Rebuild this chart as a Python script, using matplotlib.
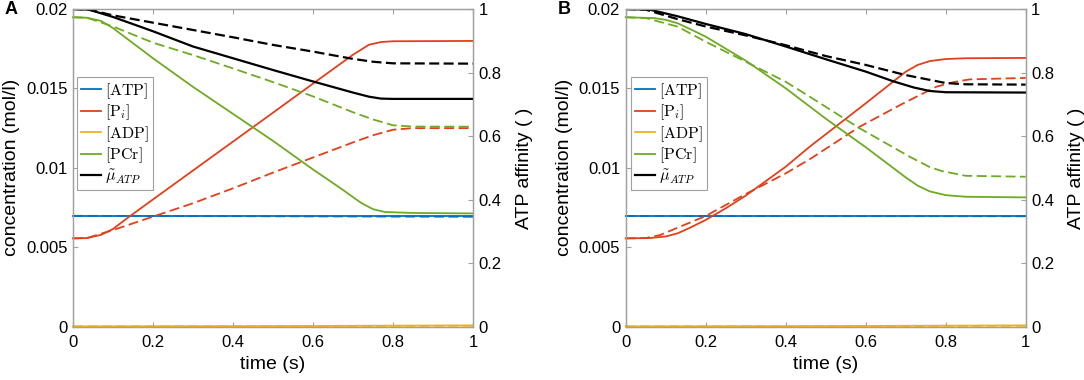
import matplotlib
matplotlib.use("Agg")
import matplotlib.pyplot as plt

plt.rcParams['font.family'] = ['Liberation Sans', 'DejaVu Sans']
plt.rcParams['mathtext.fontset'] = 'cm'

# ---- panel A ----
tA_atp = [0, 1.0]
a_atp = [0.00698, 0.00698]
a_atp_d = [0.00698, 0.00692]

tA_adp = [0, 0.5, 1.0]
a_adp = [0.00002, 0.00004, 0.00008]
a_adp_d = [0.00002, 0.00003, 0.00006]

tA_pi = [0, 0.035, 0.07, 0.1, 0.135, 0.2, 0.3, 0.4, 0.5, 0.6, 0.7, 0.74, 0.77, 0.8, 1.0]
a_pi = [0.00556, 0.00558, 0.00578, 0.00615, 0.00682, 0.00801, 0.00983, 0.01165,
        0.01347, 0.0153, 0.01712, 0.01775, 0.01792, 0.01797, 0.01799]
tA_pi_d = [0, 0.035, 0.1, 0.2, 0.3, 0.4, 0.5, 0.6, 0.7, 0.75, 0.8, 0.85, 1.0]
a_pi_d = [0.00556, 0.00558, 0.00608, 0.00693, 0.00777, 0.00871, 0.0097, 0.01065,
          0.0116, 0.01205, 0.0124, 0.0125, 0.0125]

tA_pcr = [0, 0.035, 0.07, 0.1, 0.2, 0.3, 0.4, 0.5, 0.6, 0.67, 0.72, 0.75, 0.78, 0.85, 1.0]
a_pcr = [0.01948, 0.01945, 0.01925, 0.0188, 0.0169, 0.0151, 0.0134, 0.0117,
         0.0099, 0.0087, 0.0078, 0.0074, 0.00722, 0.00716, 0.00713]
tA_pcr_d = [0, 0.035, 0.1, 0.2, 0.3, 0.4, 0.5, 0.6, 0.7, 0.75, 0.8, 0.85, 1.0]
a_pcr_d = [0.01948, 0.01945, 0.0189, 0.01788, 0.0171, 0.01626, 0.0154, 0.0145,
           0.0135, 0.01305, 0.01268, 0.0126, 0.01259]

tA_mu = [0, 0.04, 0.1, 0.2, 0.3, 0.4, 0.5, 0.6, 0.7, 0.74, 0.77, 0.8, 1.0]
a_mu = [1.0, 0.998, 0.975, 0.93, 0.882, 0.845, 0.808, 0.772, 0.737, 0.724, 0.718, 0.717, 0.717]
tA_mu_d = [0, 0.04, 0.1, 0.2, 0.3, 0.4, 0.5, 0.6, 0.7, 0.75, 0.8, 1.0]
a_mu_d = [1.0, 0.998, 0.98, 0.957, 0.934, 0.911, 0.887, 0.866, 0.843, 0.834, 0.829, 0.828]

# ---- panel B ----
tB_atp = [0, 1.0]
b_atp = [0.00697, 0.00697]
b_atp_d = [0.00697, 0.00695]

tB_adp = [0, 0.5, 1.0]
b_adp = [0.00002, 0.00004, 0.00008]
b_adp_d = [0.00002, 0.00003, 0.00006]

tB_pi = [0, 0.06, 0.1, 0.13, 0.16, 0.2, 0.25, 0.3, 0.4, 0.46, 0.6, 0.7, 0.73, 0.76, 0.8, 0.85, 1.0]
b_pi = [0.00556, 0.00558, 0.00568, 0.00588, 0.00622, 0.00672, 0.00745, 0.00825, 0.01007,
        0.01133, 0.01406, 0.01605, 0.01648, 0.01672, 0.01685, 0.0169, 0.01692]
tB_pi_d = [0, 0.05, 0.086, 0.2, 0.3, 0.4, 0.46, 0.585, 0.694, 0.777, 0.82, 0.86, 1.0]
b_pi_d = [0.00556, 0.00558, 0.00577, 0.00697, 0.00835, 0.00965, 0.01054, 0.01259,
          0.01406, 0.01511, 0.0154, 0.01557, 0.01566]

tB_pcr = [0, 0.07, 0.1, 0.13, 0.16, 0.2, 0.3, 0.4, 0.5, 0.6, 0.7, 0.73, 0.76, 0.8, 0.85, 1.0]
b_pcr = [0.01948, 0.01943, 0.01932, 0.0191, 0.01875, 0.01826, 0.01675, 0.01501, 0.0131,
         0.0113, 0.0094, 0.00888, 0.00852, 0.00828, 0.00818, 0.00814]
tB_pcr_d = [0, 0.05, 0.13, 0.2, 0.3, 0.4, 0.46, 0.585, 0.71, 0.76, 0.79, 0.85, 1.0]
b_pcr_d = [0.01948, 0.01943, 0.01889, 0.01794, 0.01668, 0.01542, 0.01448, 0.01249,
           0.0107, 0.01005, 0.0098, 0.0095, 0.00944]

tB_mu = [0, 0.06, 0.13, 0.2, 0.3, 0.4, 0.5, 0.6, 0.67, 0.72, 0.76, 0.8, 1.0]
b_mu = [1.0, 0.998, 0.977, 0.953, 0.921, 0.882, 0.842, 0.803, 0.772, 0.753, 0.742, 0.738, 0.737]
tB_mu_d = [0, 0.05, 0.13, 0.2, 0.3, 0.4, 0.5, 0.6, 0.7, 0.8, 0.85, 1.0]
b_mu_d = [1.0, 0.998, 0.968, 0.945, 0.917, 0.886, 0.852, 0.824, 0.792, 0.767, 0.763, 0.762]

labels = [r'$[\mathrm{ATP}]$', r'$[\mathrm{P}_i]$', r'$[\mathrm{ADP}]$',
          r'$[\mathrm{PCr}]$', r'$\tilde{\mu}_{ATP}$']
colors = ['#0072BD', '#E2401A', '#EDB120', '#6FAA25', 'black']

xticks = [0, 0.2, 0.4, 0.6, 0.8, 1.0]
xticklabels = ['0', '0.2', '0.4', '0.6', '0.8', '1']
yticks = [0, 0.005, 0.01, 0.015, 0.02]
yticklabels = ['0', '0.005', '0.01', '0.015', '0.02']
y2ticks = [0, 0.2, 0.4, 0.6, 0.8, 1.0]
y2ticklabels = ['0', '0.2', '0.4', '0.6', '0.8', '1']

GRAY = '#a0a0a0'
DASH_C = (0, (5.5, 2.5))
DASH_K = (0, (4.5, 2.0))


def draw_panel(ax, conc, mu, letter, legend_x):
    ax2 = ax.twinx()
    handles = []
    for (t, ys, t_d, ys_d), c, lab in zip(conc, colors[:4], labels[:4]):
        ax.plot(t_d, ys_d, color=c, lw=1.3, ls=DASH_C, clip_on=False, zorder=3)
        h, = ax.plot(t, ys, color=c, lw=1.3, label=lab, clip_on=False, zorder=3)
        handles.append(h)
    t, ys, t_d, ys_d = mu
    ax2.plot(t_d, ys_d, color='black', lw=1.6, ls=DASH_K)
    h, = ax2.plot(t, ys, color='black', lw=1.6, label=labels[4])
    handles.append(h)

    ax.set_xlim(0, 1)
    ax.set_ylim(0, 0.02)
    ax2.set_ylim(0, 1)
    ax.set_xticks(xticks)
    ax.set_xticklabels(xticklabels)
    ax.set_yticks(yticks)
    ax.set_yticklabels(yticklabels)
    ax2.set_yticks(y2ticks)
    ax2.set_yticklabels(y2ticklabels)

    for a in (ax, ax2):
        for s in a.spines.values():
            s.set_color(GRAY)
            s.set_linewidth(0.9)
        a.tick_params(direction='in', length=3.5, width=0.8, color=GRAY,
                      labelsize=12, labelcolor='black', pad=4)
    ax.tick_params(axis='x', top=True, pad=6)
    ax.tick_params(axis='y', right=False)

    ax.set_xlabel('time (s)', fontsize=14, labelpad=4)
    ax.set_ylabel('concentration (mol/l)', fontsize=14, labelpad=4)
    ax2.set_ylabel('ATP affinity ( )', fontsize=14, labelpad=10)

    leg = ax2.legend(handles=handles, loc='upper left', bbox_to_anchor=(legend_x, 0.786),
                     borderaxespad=0, fontsize=11.5, handlelength=1.25, handletextpad=0.25,
                     labelspacing=0.12, borderpad=0.25, fancybox=False, framealpha=1)
    leg.get_frame().set_edgecolor(GRAY)
    leg.get_frame().set_linewidth(0.8)

    ax.text(-0.17, 1.0, letter, transform=ax.transAxes, fontsize=13,
            fontweight='bold', va='center', ha='left')


fig = plt.figure(figsize=(10.84, 3.8), dpi=100)
axA = fig.add_axes([0.0673, 0.1403, 0.369, 0.836])
axB = fig.add_axes([0.5772, 0.1403, 0.369, 0.836])

draw_panel(axA,
           [(tA_atp, a_atp, tA_atp, a_atp_d),
            (tA_pi, a_pi, tA_pi_d, a_pi_d),
            (tA_adp, a_adp, tA_adp, a_adp_d),
            (tA_pcr, a_pcr, tA_pcr_d, a_pcr_d)],
           (tA_mu, a_mu, tA_mu_d, a_mu_d), 'A', 0.01)
draw_panel(axB,
           [(tB_atp, b_atp, tB_atp, b_atp_d),
            (tB_pi, b_pi, tB_pi_d, b_pi_d),
            (tB_adp, b_adp, tB_adp, b_adp_d),
            (tB_pcr, b_pcr, tB_pcr_d, b_pcr_d)],
           (tB_mu, b_mu, tB_mu_d, b_mu_d), 'B', 0.0125)

fig.savefig('out.png', dpi=100)
